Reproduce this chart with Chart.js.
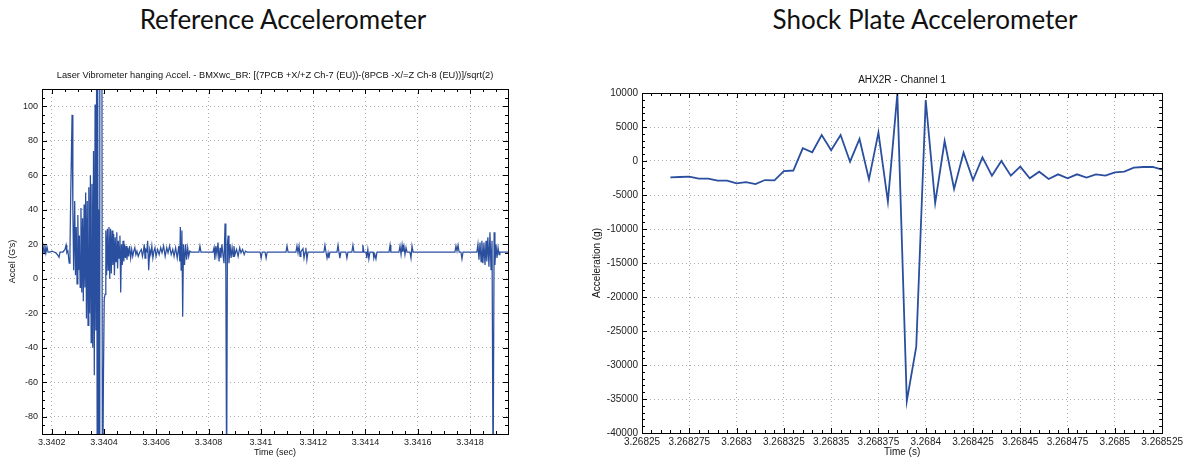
<!DOCTYPE html>
<html>
<head>
<meta charset="utf-8">
<script src="https://cdn.jsdelivr.net/npm/chart.js@4.4.1/dist/chart.umd.min.js"></script>
<style>
body{margin:0;width:1186px;height:461px;background:#fff;position:relative;overflow:hidden}
.heading{position:absolute;top:3px;font-family:Lato,"Open Sans",sans-serif;font-size:26px;color:#111;text-align:center;white-space:nowrap}
#h1{left:0;width:566px}
#h2{left:640px;width:570px}
.box{position:absolute;top:62px}
#leftBox{left:0}
#rightBox{left:560px}
</style>
</head>
<body>
<div class="heading" id="h1">Reference Accelerometer</div>
<div class="heading" id="h2">Shock Plate Accelerometer</div>
<div class="box" id="leftBox"><canvas id="refChart" width="520" height="399"></canvas></div>
<div class="box" id="rightBox"><canvas id="shockChart" width="626" height="399"></canvas></div>
<script>
// reference accelerometer (laser vibrometer), time in s, accel in G's
const refTime = [
3.340163,3.340167,3.340171,3.340174,3.340178,3.340182,3.340186,3.340193,3.340201,3.340209,
3.340216,3.340224,3.340228,3.340232,3.340243,3.340251,3.340255,3.340258,3.340262,3.340267,
3.340270,3.340273,3.340278,3.340281,3.340284,3.340288,3.340291,3.340294,3.340297,3.340300,
3.340303,3.340306,3.340309,3.340312,3.340315,3.340318,3.340321,3.340324,3.340327,3.340330,
3.340333,3.340336,3.340339,3.340342,3.340345,3.340348,3.340351,3.340354,3.340357,3.340360,
3.340363,3.340366,3.340369,3.340372,3.340374,3.340376,3.340378,3.340380,3.340382,3.340384,
3.340388,3.340392,3.340394,3.340398,3.340401,3.340404,3.340407,3.340410,3.340413,3.340416,
3.340419,3.340422,3.340425,3.340428,3.340431,3.340434,3.340437,3.340440,3.340443,3.340446,
3.340449,3.340452,3.340455,3.340458,3.340461,3.340464,3.340467,3.340470,3.340473,3.340476,
3.340479,3.340482,3.340485,3.340488,3.340491,3.340494,3.340498,3.340502,3.340506,3.340510,
3.340514,3.340518,3.340522,3.340526,3.340531,3.340537,3.340543,3.340547,3.340551,3.340554,
3.340557,3.340560,3.340564,3.340567,3.340571,3.340575,3.340579,3.340583,3.340587,3.340591,
3.340595,3.340599,3.340605,3.340611,3.340617,3.340622,3.340628,3.340634,3.340640,3.340645,
3.340651,3.340657,3.340663,3.340668,3.340674,3.340680,3.340686,3.340690,3.340692,3.340695,
3.340698,3.340701,3.340704,3.340708,3.340712,3.340716,3.340720,3.340724,3.340728,3.340733,
3.340763,3.340767,3.340771,3.340817,3.340821,3.340824,3.340828,3.340832,3.340836,3.340840,
3.340844,3.340847,3.340851,3.340855,3.340859,3.340863,3.340866,3.340869,3.340872,3.340875,
3.340878,3.340882,3.340886,3.340890,3.340894,3.340897,3.340901,3.340907,3.340913,3.340919,
3.340924,3.340930,3.340936,3.340941,3.340947,3.340997,3.341001,3.341005,3.341016,3.341020,
3.341024,3.341096,3.341100,3.341104,3.341134,3.341138,3.341142,3.341146,3.341150,3.341153,
3.341161,3.341165,3.341169,3.341172,3.341176,3.341180,3.341241,3.341245,3.341249,3.341253,
3.341257,3.341260,3.341264,3.341291,3.341295,3.341299,3.341302,3.341306,3.341325,3.341329,
3.341333,3.341348,3.341352,3.341356,3.341387,3.341390,3.341394,3.341402,3.341405,3.341409,
3.341413,3.341417,3.341429,3.341432,3.341436,3.341440,3.341444,3.341490,3.341494,3.341497,
3.341528,3.341532,3.341536,3.341540,3.341543,3.341547,3.341551,3.341555,3.341559,3.341570,
3.341574,3.341578,3.341582,3.341742,3.341746,3.341750,3.341754,3.341758,3.341765,3.341769,
3.341773,3.341826,3.341830,3.341834,3.341838,3.341842,3.341845,3.341849,3.341853,3.341857,
3.341861,3.341864,3.341868,3.341872,3.341876,3.341880,3.341884,3.341888,3.341892,3.341895,
3.341899,3.341903,3.341907,3.341911,3.341914,3.341945
]
const refAccel = [
15.5,19,14.5,19.5,15,18.5,15.5,15.5,16,15.5,
15,13.5,12.5,15.5,15.5,17,19.5,15,16,9,
18,50,95,40,5,45,2,30,-3,37,
5,25,-5,41,-8,35,-13,43,-5,50,
-23,45,-27,53,-20,60,-37,55,-40,74,
-56,101,-30,125,-110,135,-130,40,-100,150,
250,160,-150,-56,-12,-9,28,2,29,5,
30,0,29,3,28,8,26,2,24,10,
27,6,22,12,25,-8,20,8,22,10,
20,12,19,11,18,13,19,12,17,13,
16,18,14,16,13,15.5,17,13,16,20,
12,17,16,22,5,17,14,19,12,16,
18,13,17,14,18,15,19,13,18,15,
19,14,17,13,18,12,19,10,30,5,
28,-22,20,8,20,11,18,13,16,15.5,
15.5,19,15.5,15.5,18,11,19,14,21,10,
18,12,20,14,9,32,5,-120,20,25,
9,20,12,18,13,19,14,17,13,18,
15,17,14,16,15.5,15.5,12,15.5,15.5,12,
15.5,15.5,19,15.5,15.5,19,15,19,13,15.5,
17.5,12,15.5,18,11,15.5,15.5,19.5,15.5,12,
15,12,15.5,15.5,19.5,15,12,15.5,15.5,12,
15.5,15.5,19.5,15.5,15.5,19.5,15.5,15.5,12,17,
11.5,15.5,15.5,12,14,11.5,15.5,15.5,19.5,15.5,
15.5,19,14,19.5,15.5,19,14,18,15.5,15.5,
12,19,15.5,15.5,19,16,19.5,15.5,15.5,11.5,
15.5,15.5,20,11,21,10,22,9,21,8,
22,10,24,7,27,5,22,-120,27,8,
20,12,18,14,15.5,15.5
]
const refTicksX = [3.3402, 3.3404, 3.3406, 3.3408, 3.341, 3.3412, 3.3414, 3.3416, 3.3418]
const refTicksY = [-80, -60, -40, -20, 0, 20, 40, 60, 80, 100]

// shock plate accelerometer AHX2R ch 1, time in s, accel in g
const shockTime = [
3.268265,3.26827,3.268275,3.26828,3.268285,3.26829,3.268295,3.2683,3.268305,3.26831,
3.268315,3.26832,3.268325,3.26833,3.268335,3.26834,3.268345,3.26835,3.268355,3.26836,
3.268365,3.26837,3.268375,3.26838,3.268385,3.26839,3.268395,3.2684,3.268405,3.26841,
3.268415,3.26842,3.268425,3.26843,3.268435,3.26844,3.268445,3.26845,3.268455,3.26846,
3.268465,3.26847,3.268475,3.26848,3.268485,3.26849,3.268495,3.2685,3.268505,3.26851,
3.268515,3.26852,3.268525
]
const shockAccel = [
-2400,-2350,-2300,-2600,-2600,-2900,-2900,-3300,-3100,-3400,
-2800,-2850,-1500,-1400,1870,1280,3820,1570,3820,-100,
3240,-2700,4170,-5980,9900,-35300,-27300,8970,-6200,2940,
-4100,1230,-2800,540,-2150,0,-2150,-830,-2550,-1570,
-2650,-1960,-2550,-1960,-2450,-1960,-2150,-1670,-1570,-980,
-880,-880,-1270
]
const shockTicksX = [3.26825, 3.268275, 3.2683, 3.268325, 3.26835, 3.268375, 3.2684, 3.268425, 3.26845, 3.268475, 3.2685, 3.268525]
const shockTicksY = [-40000, -35000, -30000, -25000, -20000, -15000, -10000, -5000, 0, 5000, 10000]

const FONT = '"Liberation Sans", Arial, sans-serif'
Chart.defaults.font.family = FONT
Chart.defaults.color = '#222'

// matlab-ish box with inward major/minor ticks on all sides, title centred on the axes
const frame = {
  id: 'frame',
  afterDatasetsDraw(chart, args, opts) {
    const {ctx, chartArea: a, scales: {x, y}} = chart
    ctx.save()
    ctx.strokeStyle = '#000'
    ctx.lineWidth = 1
    ctx.beginPath()
    const run = (scale, step, majors, horiz) => {
      const n0 = Math.ceil(scale.min / step - 1e-6), n1 = Math.floor(scale.max / step + 1e-6)
      for (let n = n0; n <= n1; n++) {
        const v = n * step
        const major = majors.some(m => Math.abs(m - v) < step * 0.01)
        const len = major ? 5 : 3
        const p = Math.round(scale.getPixelForValue(v)) + 0.5
        if (horiz) {
          ctx.moveTo(p, a.bottom); ctx.lineTo(p, a.bottom - len)
          ctx.moveTo(p, a.top); ctx.lineTo(p, a.top + len)
        } else {
          ctx.moveTo(a.left, p); ctx.lineTo(a.left + len, p)
          ctx.moveTo(a.right, p); ctx.lineTo(a.right - len, p)
        }
      }
    }
    run(x, opts.minorX, opts.majorX, true)
    run(y, opts.minorY, opts.majorY, false)
    ctx.stroke()
    ctx.strokeRect(Math.round(a.left) + 0.5, Math.round(a.top) + 0.5, Math.round(a.width), Math.round(a.height))

    ctx.fillStyle = '#111'
    ctx.font = opts.titleSize + 'px ' + FONT
    ctx.textAlign = 'center'
    ctx.textBaseline = 'middle'
    ctx.fillText(opts.title, (a.left + a.right) / 2, a.top - opts.titleGap)
    ctx.restore()
  }
}

const fmt = v => String(+Number(v).toFixed(7))
const gridOpts = {color: 'rgba(0,0,0,0.32)', lineWidth: 1, drawTicks: false}
const borderOpts = {display: false, dash: [1, 3]}

function makeChart(id, times, vals, cfg) {
  return new Chart(document.getElementById(id), {
    type: 'line',
    data: {
      datasets: [{
        data: times.map((t, i) => ({x: t, y: vals[i]})),
        borderColor: '#2b4f9f',
        borderWidth: cfg.lineWidth,
        pointRadius: 0,
        tension: 0,
        fill: false
      }]
    },
    options: {
      responsive: false,
      animation: false,
      layout: {padding: {left: 0, right: cfg.padRight, top: cfg.padTop, bottom: 0}},
      plugins: {
        legend: {display: false},
        tooltip: {enabled: false},
        title: {display: false},
        frame: {minorX: cfg.minorX, minorY: cfg.minorY, majorX: cfg.ticksX, majorY: cfg.ticksY,
                title: cfg.title, titleSize: cfg.titleSize, titleGap: cfg.titleGap}
      },
      scales: {
        x: {
          type: 'linear', min: cfg.xMin, max: cfg.xMax,
          afterBuildTicks: s => { s.ticks = cfg.ticksX.map(v => ({value: v})) },
          afterFit: s => { s.height = cfg.xHeight },
          grid: gridOpts, border: borderOpts,
          ticks: {autoSkip: false, maxRotation: 0, padding: 3, font: {size: cfg.fontSize}, callback: fmt},
          title: {display: true, text: cfg.xTitle, color: '#111', font: {size: cfg.fontSize}, padding: {top: 0, bottom: 3}}
        },
        y: {
          type: 'linear', min: cfg.yMin, max: cfg.yMax,
          afterBuildTicks: s => { s.ticks = cfg.ticksY.map(v => ({value: v})) },
          afterFit: s => { s.width = cfg.yWidth },
          grid: gridOpts, border: borderOpts,
          ticks: {autoSkip: false, padding: 4, font: {size: cfg.fontSize}, callback: v => String(v)},
          title: {display: true, text: cfg.yTitle, color: '#111', font: {size: cfg.fontSize}, padding: {top: cfg.yTitlePad, bottom: 0}}
        }
      }
    },
    plugins: [frame]
  })
}

makeChart('refChart', refTime, refAccel, {
  title: 'Laser Vibrometer hanging Accel. - BMXwc_BR: [(7PCB +X/+Z Ch-7 (EU))-(8PCB -X/=Z Ch-8 (EU))]/sqrt(2)',
  titleSize: 9.25, titleGap: 14, padTop: 27, fontSize: 9,
  xTitle: 'Time (sec)', yTitle: "Accel (G's)",
  xMin: 3.340163, xMax: 3.341945, yMin: -90, yMax: 110,
  ticksX: refTicksX, ticksY: refTicksY,
  minorX: 0.00005, minorY: 5,
  xHeight: 27, yWidth: 42, padRight: 12, yTitlePad: 7, lineWidth: 1.25
})

makeChart('shockChart', shockTime, shockAccel, {
  title: 'AHX2R - Channel 1',
  titleSize: 10, titleGap: 13, padTop: 31, fontSize: 10,
  xTitle: 'Time (s)', yTitle: 'Acceleration (g)',
  xMin: 3.26825, xMax: 3.268525, yMin: -40000, yMax: 10000,
  ticksX: shockTicksX, ticksY: shockTicksY,
  minorX: 0.000005, minorY: 1000,
  xHeight: 28, yWidth: 82, padRight: 23, yTitlePad: 31, lineWidth: 1.8
})
</script>
</body>
</html>
